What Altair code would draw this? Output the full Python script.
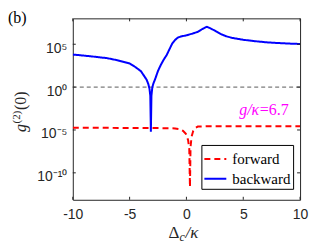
import altair as alt
import pandas as pd

# ---- data ----
series_names = ["forward", "backward"]
series_colors = ["#ff0000", "#0000ff"]

x_backward = [-10, -9, -8, -7, -6, -5, -4.5, -4, -3.7, -3.5, -3.35, -3.25, -3.18,
              -3.13, -3.08, -3.0, -2.9, -2.75, -2.5, -2.25, -2.0, -1.75, -1.5,
              -1.25, -1.0, -0.75, -0.5, 0, 0.5, 1.0, 1.4, 1.8, 2.2, 2.6, 3.0,
              3.5, 4, 5, 6, 7, 8, 9, 10]
g2_backward = [6.3e3, 4.7e3, 3.4e3, 2.4e3, 1.3e3, 5.8e2, 2.2e2, 71, 18, 7.1, 2.2,
               0.63, 0.1, 6.3e-6, 0.1, 1.0, 2.8, 8.9, 79, 4.0e2, 1.6e3, 5.2e3,
               2.5e4, 1.2e5, 3.2e5, 6.0e5, 7.9e5, 1.1e6, 1.7e6, 2.8e6, 6.0e6,
               1.1e7, 6.3e6, 3.2e6, 1.6e6, 8.5e5, 5.6e5, 3.3e5, 2.3e5, 1.7e5,
               1.4e5, 1.2e5, 1.07e5]

x_forward = [-10, -6, -3, -1.5, -1, -0.6, -0.3, -0.05, 0.15, 0.25, 0.31, 0.36,
             0.45, 0.6, 0.8, 1.0, 2, 4, 6, 8, 10]
g2_forward = [1.8e-5, 1.75e-5, 1.7e-5, 1.6e-5, 1.5e-5, 1.26e-5, 7.9e-6, 3.5e-6,
              6.3e-7, 6.3e-8, 2.2e-12, 1e-7, 1.6e-6, 7.9e-6, 1.8e-5, 2.5e-5,
              2.75e-5, 2.8e-5, 2.8e-5, 2.8e-5, 2.8e-5]

x_ticks = [-10, -5, 0, 5, 10]
y_ticks = [1e-10, 1e-5, 1, 1e5]
y_tick_labels = ["10⁻¹⁰", "10⁻⁵", "10⁰", "10⁵"]
reference_level = [1]
x_domain = [-10, 10]
y_domain = [7.2e-14, 1.05e8]

panel_label = "(b)"
annot_italic = "g/κ"
annot_value = "=6.7"

W, H = 228, 182
INK = "#262626"

df_f = pd.DataFrame({"x": x_forward, "y": g2_forward, "series": series_names[0]})
df_b = pd.DataFrame({"x": x_backward, "y": g2_backward, "series": series_names[1]})
df_xt = pd.DataFrame({"x": x_ticks})
df_yt = pd.DataFrame({"y": y_ticks})
df_ref = pd.DataFrame({"y": reference_level})
one = pd.DataFrame({"a": [0]})

xs = alt.Scale(domain=x_domain, nice=False, zero=False)
ys = alt.Scale(type="log", domain=y_domain, nice=False)

label_map = " : ".join(
    f"datum.value < {v*3} ? '{t}'" for v, t in zip(y_ticks, y_tick_labels)
) + " : ''"

xaxis = alt.Axis(values=x_ticks, labelExpr="'' + datum.value", title=None,
                 labelPadding=8, labelFlush=False)
yaxis = alt.Axis(values=y_ticks, labelExpr=label_map, title=None,
                 labelPadding=6, labelOffset=4)

X = alt.X("x:Q", scale=xs, axis=xaxis)
Y = alt.Y("y:Q", scale=ys, axis=yaxis)

legend = alt.Legend(title=None, orient="none", legendX=129, legendY=127,
                    direction="vertical", strokeColor="black", fillColor="white",
                    padding=2, labelFont="Liberation Serif", labelFontSize=15,
                    labelColor="black", symbolType="stroke", symbolSize=484,
                    symbolStrokeWidth=2, rowPadding=-7, labelOffset=5)
color = alt.Color("series:N", scale=alt.Scale(domain=series_names, range=series_colors),
                  legend=legend)
dash = alt.StrokeDash("series:N",
                      scale=alt.Scale(domain=series_names, range=[[6, 4], [1, 0]]),
                      legend=legend)

ref = alt.Chart(df_ref).mark_rule(color="#5a5a5a", strokeWidth=1,
                                  strokeDash=[4, 3]).encode(y=Y)
fwd = alt.Chart(df_f).mark_line(strokeWidth=2, clip=True).encode(
    x=X, y=Y, color=color, strokeDash=dash)
bwd = alt.Chart(df_b).mark_line(strokeWidth=2, clip=True).encode(
    x=X, y=Y, color=color, strokeDash=dash)

tick_style = dict(color=INK, strokeWidth=1)
tb = alt.Chart(df_xt).mark_rule(**tick_style).encode(x=X, y=alt.value(H), y2=alt.value(H - 3))
tt = alt.Chart(df_xt).mark_rule(**tick_style).encode(x=X, y=alt.value(0), y2=alt.value(3))
tl = alt.Chart(df_yt).mark_rule(**tick_style).encode(y=Y, x=alt.value(0), x2=alt.value(3))
tr = alt.Chart(df_yt).mark_rule(**tick_style).encode(y=Y, x=alt.value(W), x2=alt.value(W - 3))

serif = "Liberation Serif"
txt = []
# panel label
txt.append(alt.Chart(one).mark_text(text=panel_label, font=serif, fontSize=16,
                                    align="left", baseline="alphabetic", color="black")
           .encode(x=alt.value(-65), y=alt.value(5)))
# annotation g/kappa = 6.7
txt.append(alt.Chart(one).mark_text(text=annot_italic, font=serif, fontSize=16,
                                    fontStyle="italic", align="right",
                                    baseline="alphabetic", color="#ff00ff")
           .encode(x=alt.value(187), y=alt.value(97)))
txt.append(alt.Chart(one).mark_text(text=annot_value, font=serif, fontSize=16,
                                    align="left", baseline="alphabetic", color="#ff00ff")
           .encode(x=alt.value(187.5), y=alt.value(97)))
# x title  Δ_c / κ
txt.append(alt.Chart(one).mark_text(text="Δ", font=serif, fontSize=17, align="right",
                                    baseline="alphabetic", color=INK)
           .encode(x=alt.value(107), y=alt.value(220)))
txt.append(alt.Chart(one).mark_text(text="c", font=serif, fontSize=12, fontStyle="italic",
                                    align="left", baseline="alphabetic", color=INK)
           .encode(x=alt.value(107), y=alt.value(223)))
txt.append(alt.Chart(one).mark_text(text="/κ", font=serif, fontSize=17, fontStyle="italic",
                                    align="left", baseline="alphabetic", color=INK)
           .encode(x=alt.value(113), y=alt.value(220)))
# y title  g^(2)(0), rotated
txt.append(alt.Chart(one).mark_text(text="g", font=serif, fontSize=16, fontStyle="italic",
                                    angle=270, align="left", baseline="alphabetic", color=INK)
           .encode(x=alt.value(-47), y=alt.value(114)))
txt.append(alt.Chart(one).mark_text(text="(2)", font=serif, fontSize=11,
                                    angle=270, align="left", baseline="alphabetic", color=INK)
           .encode(x=alt.value(-53), y=alt.value(105.5)))
txt.append(alt.Chart(one).mark_text(text="(0)", font=serif, fontSize=16,
                                    angle=270, align="left", baseline="alphabetic", color=INK)
           .encode(x=alt.value(-47), y=alt.value(92)))

chart = alt.layer(ref, fwd, bwd, tb, tt, tl, tr, *txt).properties(
    width=W, height=H,
    autosize=alt.AutoSizeParams(type="none"),
    padding={"left": 65, "top": 10, "right": 24, "bottom": 48},
    background="white",
).configure_view(stroke=INK, strokeWidth=1).configure_axis(
    domain=False, grid=False, ticks=False, tickSize=0,
    labelFont="Liberation Sans", labelFontSize=14, labelColor=INK,
)

chart.save("out.html", embed_options={"renderer": "svg", "actions": False})
